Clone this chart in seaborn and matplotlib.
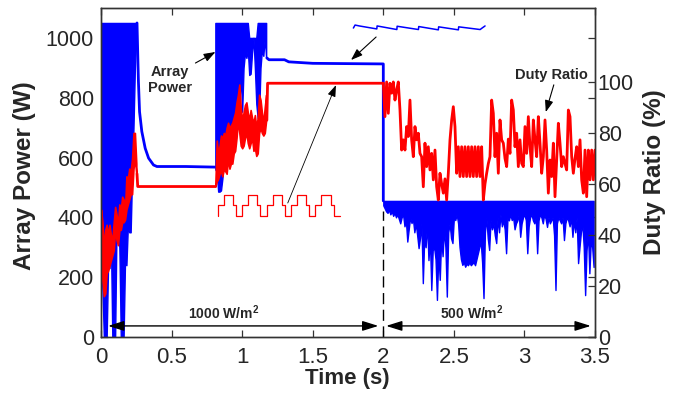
import numpy as np
import pandas as pd
import matplotlib
matplotlib.use("Agg")
import matplotlib.pyplot as plt
import seaborn as sns

# ---------------- data ----------------
# Array power (W) - blue
# segment 1 : 0.00-0.25 s, fast swing, upper/lower envelope every 10 ms
p1_start, p1_step = 0.00, 0.01
p1_hi = [1050, 1050, 1050, 1050, 1050, 1050, 1050, 1050, 1050, 1050, 1050, 1050, 1050,
         1050, 1050, 1050, 1050, 1050, 1050, 1050, 1050, 1050, 1050, 1050, 1050, 1050]
p1_lo = [250, 160, 0, 0, 0, 240, 230, 330, 0, 0, 0, 370, 360, 300, 0, 0, 0, 250, 240,
         370, 350, 350, 540, 700, 900, 1000]
# settling after the start
p_settle_t = [0.255, 0.262, 0.265, 0.273, 0.289, 0.313, 0.337, 0.372, 0.396, 0.60, 0.81]
p_settle_w = [1050, 910, 854, 753, 687, 631, 598, 575, 570, 570, 568]
# segment 2 : 0.81-1.17 s
p2_start, p2_step = 0.81, 0.01
p2_hi = [1050, 1050, 1050, 1050, 1050, 1050, 1050, 1050, 1050, 1050, 1050, 1050, 1050,
         1050, 1050, 1050, 1050, 1050, 1050, 1050, 1050, 1050, 1050, 1050, 1000, 1000,
         1000, 1000, 1000, 1000, 1050, 1050, 1050, 1050, 1050, 1050, 1050]
p2_lo = [560, 553, 486, 486, 490, 530, 586, 620, 653, 660, 665, 675, 687, 700, 720, 742,
         760, 776, 880, 753, 900, 950, 933, 960, 876, 880, 950, 1000, 900, 780, 732, 740,
         900, 960, 940, 1000, 933]
# steady state at 1000 W/m2
p_flat_t = [1.175, 1.19, 1.30, 1.33, 1.50, 2.00, 2.00]
p_flat_w = [933, 927, 927, 920, 915, 913, 455]
# segment 3 : 2.00-3.49 s (500 W/m2)
p3_start, p3_step = 2.00, 0.01
p3_hi = 455
p3_lo = [440, 430, 420, 415, 425, 410, 420, 405, 415, 400, 410, 395, 380, 400, 410, 370,
         390, 319, 360, 400, 381, 395, 350, 380, 340, 297, 330, 380, 180, 330, 300, 380,
         257, 330, 157, 290, 300, 260, 124, 280, 191, 330, 270, 360, 300, 135, 350, 380,
         330, 314, 400, 391, 410, 380, 300, 260, 241, 250, 235, 245, 240, 250, 240, 245,
         250, 240, 260, 280, 300, 320, 250, 130, 350, 400, 330, 291, 390, 360, 380, 340,
         314, 400, 350, 410, 370, 390, 360, 280, 400, 390, 410, 391, 400, 360, 380, 390,
         410, 335, 380, 400, 410, 390, 280, 370, 400, 410, 390, 380, 400, 280, 390, 410,
         400, 380, 410, 395, 368, 400, 380, 390, 400, 340, 157, 380, 400, 390, 380, 400,
         324, 380, 400, 390, 370, 400, 335, 390, 350, 400, 247, 300, 350, 380, 300, 140,
         290, 350, 213, 320, 300, 234]

# Duty ratio (%) - red
d1_start, d1_step = 0.00, 0.01
d1_hi = [50, 45, 35, 42, 44, 40, 44, 40, 38, 45, 51, 48, 44, 52, 50, 55, 54, 50, 63, 62,
         66, 65, 70, 80, 80, 68]
d1_lo = [30, 22, 16, 17, 25, 26, 28, 30, 32, 34, 42, 38, 36, 42, 42, 45, 45, 46, 50, 52,
         54, 56, 56, 66, 70, 64]
d_flat1_t = [0.255, 0.26, 0.81]
d_flat1_v = [64, 59, 59]
d2_start, d2_step = 0.81, 0.01
d2_hi = [60, 77, 72, 75, 79, 78, 80, 79, 82, 84, 82, 83, 84, 86, 88, 92, 95, 99, 90, 85,
         88, 91, 92, 88, 85, 89, 86, 84, 87, 82, 86, 95, 93, 88, 84, 90, 95]
d2_lo = [59, 61, 62, 64, 65, 63, 66, 65, 64, 70, 66, 68, 68, 72, 73, 78, 85, 80, 75, 74,
         75, 78, 80, 76, 74, 76, 78, 73, 74, 71, 72, 80, 82, 80, 79, 80, 85]
d_flat2_t = [1.175, 1.18, 2.00]
d_flat2_v = [85, 99.5, 99.5]
d3_start, d3_end = 2.00, 3.50
d3_v = [99.5, 86.4, 100, 87.7, 99.5, 95.6, 100, 92.9, 96.9, 100, 89.0, 73.3, 77.3, 73.3,
        82.5, 78.6, 92.9, 77.3, 70.7, 82.5, 77.3, 79.9, 72.0, 70.7, 58.9, 76.0, 66.8,
        74.6, 65.5, 72.0, 61.6, 73.3, 58.9, 53.7, 64.2, 60.0, 56.4, 62.0, 53.7, 64.2,
        77.3, 85.0, 90.3, 82.5, 64.2, 74.6, 62.9, 74.6, 62.9, 74.6, 62.9, 74.6, 62.9,
        74.6, 62.9, 74.6, 62.9, 74.6, 62.9, 74.6, 53.7, 60.0, 64.2, 68.0, 70.7, 92.9,
        87.7, 70.7, 79.9, 64.2, 85.1, 77.3, 76.0, 70.0, 66.8, 77.6, 72.0, 92.9, 89.0,
        74.6, 79.9, 66.8, 77.3, 68.1, 66.8, 82.5, 72.0, 86.4, 74.6, 66.8, 85.1, 77.3,
        70.7, 86.4, 76.0, 64.2, 70.7, 85.1, 73.3, 56.4, 69.4, 62.9, 76.0, 55.0, 69.4,
        83.8, 76.0, 66.8, 70.7, 68.0, 65.5, 89.0, 86.4, 70.7, 64.2, 70.0, 74.6, 66.8,
        77.3, 61.6, 56.4, 73.3, 55.0, 73.3, 61.6, 73.3, 61.6, 73.3]

# sketches drawn inside the plot (in W units)
pwm_start, pwm_unit = 0.827, 0.0216
pwm_levels = [441, 441, 475, 475, 475, 441, 406, 406,
              441, 441, 475, 475, 475, 441, 406, 406,
              441, 441, 475, 475, 475, 441, 406, 406,
              441, 441, 475, 475, 475, 441, 406, 406,
              441, 441, 475, 475, 475, 441, 406, 406]
ripple_t = [1.788, 1.800, 1.830, 1.954, 1.956, 2.096, 2.098, 2.249, 2.251, 2.390, 2.392,
            2.532, 2.534, 2.686, 2.700, 2.721]
ripple_w = [1033, 1043, 1040, 1030, 1040, 1028, 1039, 1028, 1038, 1027, 1037, 1027, 1037,
            1028, 1033, 1040]

x_ticks = [0, 0.5, 1, 1.5, 2, 2.5, 3, 3.5]
x_ticklabels = ["0", "0.5", "1", "1.5", "2", "2.5", "3", "3.5"]
w_ticks = [0, 200, 400, 600, 800, 1000]
d_ticks = [0, 20, 40, 60, 80, 100]


def envelope(start, step, hi, lo):
    t = start + step * np.arange(len(lo))
    hi = np.array(np.broadcast_to(np.asarray(hi, float), (len(lo),)))
    return pd.DataFrame({"t": t, "hi": hi, "lo": np.asarray(lo, float)})


blue_env = [envelope(p1_start, p1_step, p1_hi, p1_lo),
            envelope(p2_start, p2_step, p2_hi, p2_lo),
            envelope(p3_start, p3_step, p3_hi, p3_lo)]
red_env = [envelope(d1_start, d1_step, d1_hi, d1_lo),
           envelope(d2_start, d2_step, d2_hi, d2_lo)]
blue_lines = [pd.DataFrame({"t": p_settle_t, "v": p_settle_w}),
              pd.DataFrame({"t": p_flat_t, "v": p_flat_w})]
red_lines = [pd.DataFrame({"t": d_flat1_t, "v": d_flat1_v}),
             pd.DataFrame({"t": d_flat2_t, "v": d_flat2_v}),
             pd.DataFrame({"t": np.linspace(d3_start, d3_end, len(d3_v)), "v": d3_v})]

pwm_t = np.concatenate([[pwm_start], pwm_start + pwm_unit * np.arange(len(pwm_levels) + 1)])
pwm_w = np.concatenate([[406], pwm_levels, [pwm_levels[-1]]])

# ---------------- plotting ----------------
sns.set_theme(style="white")
plt.rcParams["font.family"] = ["Liberation Sans", "DejaVu Sans"]
plt.rcParams["mathtext.fontset"] = "custom"
plt.rcParams["mathtext.rm"] = "Liberation Sans"
plt.rcParams["mathtext.bf"] = "Liberation Sans:bold"
plt.rcParams["patch.force_edgecolor"] = False

BLUE, RED = "#0000ff", "#ff0000"
fig = plt.figure(figsize=(6.78, 3.98), dpi=100)
ax1 = fig.add_axes([0.149, 0.1533, 0.7286, 0.8266])
ax2 = ax1.twinx()

for df in blue_env:
    ax1.fill_between(df["t"].to_numpy(), df["lo"].to_numpy(), df["hi"].to_numpy(),
                     facecolor=BLUE, edgecolor=BLUE, lw=1.0, interpolate=False)
for df in blue_lines:
    sns.lineplot(data=df, x="t", y="v", sort=False, estimator=None, color=BLUE,
                 lw=2.0, ax=ax1)
for df in red_env:
    ax2.fill_between(df["t"].to_numpy(), df["lo"].to_numpy(), df["hi"].to_numpy(),
                     facecolor=RED, edgecolor=RED, lw=1.2)
for df in red_lines:
    sns.lineplot(data=df, x="t", y="v", sort=False, estimator=None, color=RED,
                 lw=2.0, ax=ax2)

# inset sketches
ax1.plot(pwm_t, pwm_w, drawstyle="steps-post", color=RED, lw=0.9)
ax1.plot(ripple_t, ripple_w, color=BLUE, lw=1.1)

ax1.set_xlim(0, 3.5)
ax1.set_ylim(0, 1100)
ax2.set_ylim(0, 129)
ax1.set_xticks(x_ticks)
ax1.set_xticklabels(x_ticklabels)
ax1.set_yticks(w_ticks)
ax2.set_yticks(d_ticks)

for ax in (ax1, ax2):
    for s in ax.spines.values():
        s.set_color("#333333")
        s.set_linewidth(1.0)

ax1.tick_params(axis="both", direction="in", length=5, width=0.9, color="#333333",
                top=True, right=True, labelright=False, bottom=True, left=True)
ax1.tick_params(axis="x", labelsize=16, pad=7)
ax1.tick_params(axis="y", labelsize=15.5, pad=5)
ax2.tick_params(axis="y", direction="in", length=5, width=0.9, color="#333333",
                labelsize=15.5, pad=2, right=True)

ax1.set_xlabel("Time (s)", fontsize=16, fontweight="bold")
ax1.set_ylabel("Array Power (W)", fontsize=17.5, fontweight="bold")
ax2.set_ylabel("Duty Ratio (%)", fontsize=17.5, fontweight="bold")
ax1.xaxis.set_label_coords(0.498, -0.095)
ax1.yaxis.set_label_coords(-0.132, 0.49)
ax2.yaxis.set_label_coords(1.097, 0.5)

T = ax1.transData
# dashed separator at the irradiance step
ax2.plot([2.0, 2.0], [0, 420], transform=T, color="black", lw=1.0, dashes=(8, 4))

# irradiance spans
span_kw = dict(arrowstyle="<|-|>,head_length=0.8,head_width=0.25", color="black",
               lw=1.0, shrinkA=0, shrinkB=0, mutation_scale=12)
ax2.annotate("", xy=(0.05, 37), xytext=(1.965, 37), xycoords=T, textcoords=T,
             arrowprops=span_kw)
ax2.annotate("", xy=(2.02, 37), xytext=(3.47, 37), xycoords=T, textcoords=T,
             arrowprops=span_kw)
ax2.text(0.872, 80, r"1000 W/m$^{\mathbf{2}}$", transform=T, ha="center", va="center",
         fontsize=10, fontweight="bold")
ax2.text(2.63, 80, r"500 W/m$^{\mathbf{2}}$", transform=T, ha="center", va="center",
         fontsize=10, fontweight="bold")

# labels with pointers
ptr_kw = dict(arrowstyle="-|>,head_length=0.7,head_width=0.25", color="black", lw=0.8,
              shrinkA=0, shrinkB=0, mutation_scale=10)
ax2.text(0.49, 860, "Array\nPower", transform=T, ha="center", va="center",
         fontsize=10.5, fontweight="bold", linespacing=1.15)
ax2.annotate("", xy=(0.811, 953), xytext=(0.669, 916), xycoords=T, textcoords=T,
             arrowprops=ptr_kw)
ax2.text(3.19, 876, "Duty Ratio", transform=T, ha="center", va="center",
         fontsize=10.5, fontweight="bold")
ax2.annotate("", xy=(3.151, 752), xytext=(3.208, 843), xycoords=T, textcoords=T,
             arrowprops=ptr_kw)
ax2.annotate("", xy=(1.771, 926), xytext=(1.949, 1003), xycoords=T, textcoords=T,
             arrowprops=ptr_kw)
ax2.annotate("", xy=(1.664, 842), xytext=(1.323, 448), xycoords=T, textcoords=T,
             arrowprops=dict(ptr_kw, lw=0.6))

fig.savefig("out.png", dpi=100)
